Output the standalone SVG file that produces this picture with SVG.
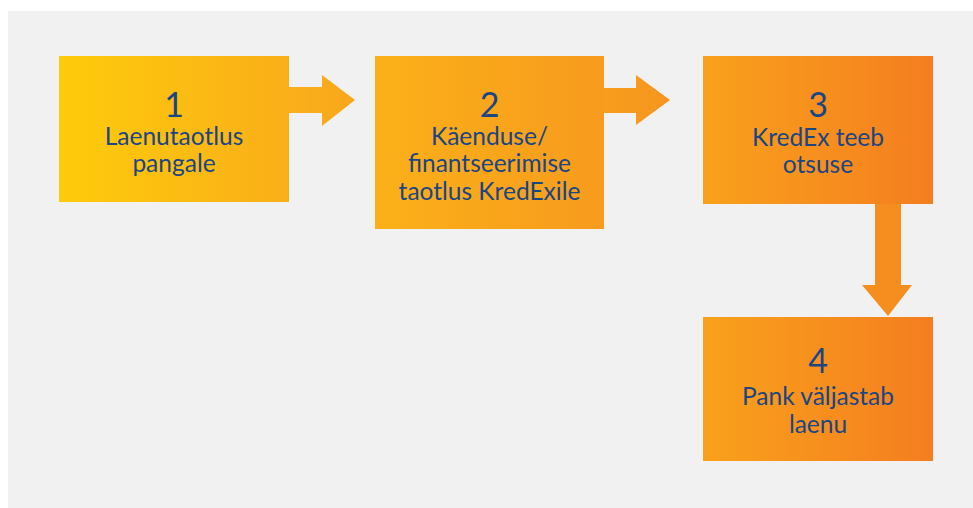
<svg xmlns="http://www.w3.org/2000/svg" width="973" height="508" viewBox="0 0 973 508">
<defs>
<linearGradient id="g1" x1="0" y1="0" x2="1" y2="0"><stop offset="0" stop-color="#FECB0B"/><stop offset="1" stop-color="#FAAF19"/></linearGradient>
<linearGradient id="g2" x1="0" y1="0" x2="1" y2="0"><stop offset="0" stop-color="#FBB018"/><stop offset="1" stop-color="#F79B1E"/></linearGradient>
<linearGradient id="g3" x1="0" y1="0" x2="1" y2="0"><stop offset="0" stop-color="#F9A11B"/><stop offset="1" stop-color="#F47E20"/></linearGradient>
<linearGradient id="ga1" x1="0" y1="0" x2="1" y2="0"><stop offset="0" stop-color="#FAB019"/><stop offset="1" stop-color="#F9A61B"/></linearGradient>
<linearGradient id="ga2" x1="0" y1="0" x2="1" y2="0"><stop offset="0" stop-color="#F79E1D"/><stop offset="1" stop-color="#F6951E"/></linearGradient>
<style>
.t{font-family:Lato,"Open Sans",sans-serif;fill:#1B4583;text-anchor:middle;font-size:24.5px}
.n{font-family:Lato,"Open Sans",sans-serif;fill:#1B4583;text-anchor:middle;font-size:34px}
</style>
</defs>
<rect x="8" y="11" width="965" height="497" fill="#F1F1F1"/>
<g id="connectors">
<polygon points="289,87 322,87 322,75 355,100 322,126 322,113 289,113" fill="url(#ga1)"/>
<polygon points="604,88 636,88 636,75 670,100 636,125 636,113 604,113" fill="url(#ga2)"/>
<polygon points="875,204 901,204 901,285 912,285 888,316 862,285 875,285" fill="#F58E1F"/>
</g>
<g id="node1">
<rect x="59" y="56" width="230" height="146" fill="url(#g1)"/>
<text class="n" x="174" y="117">1</text>
<text class="t" x="174" y="145">Laenutaotlus</text>
<text class="t" x="174" y="172">pangale</text>
</g>
<g id="node2">
<rect x="375" y="56" width="229" height="173" fill="url(#g2)"/>
<text class="n" x="489.5" y="117">2</text>
<text class="t" x="489.5" y="145">Käenduse/</text>
<text class="t" x="489.5" y="172">finantseerimise</text>
<text class="t" x="489.5" y="200">taotlus KredExile</text>
</g>
<g id="node3">
<rect x="703" y="56" width="230" height="148" fill="url(#g3)"/>
<text class="n" x="818" y="117">3</text>
<text class="t" x="818" y="146">KredEx teeb</text>
<text class="t" x="818" y="173">otsuse</text>
</g>
<g id="node4">
<rect x="703" y="317" width="230" height="144" fill="url(#g3)"/>
<text class="n" x="818" y="373">4</text>
<text class="t" x="818" y="405">Pank väljastab</text>
<text class="t" x="818" y="433">laenu</text>
</g>
</svg>
